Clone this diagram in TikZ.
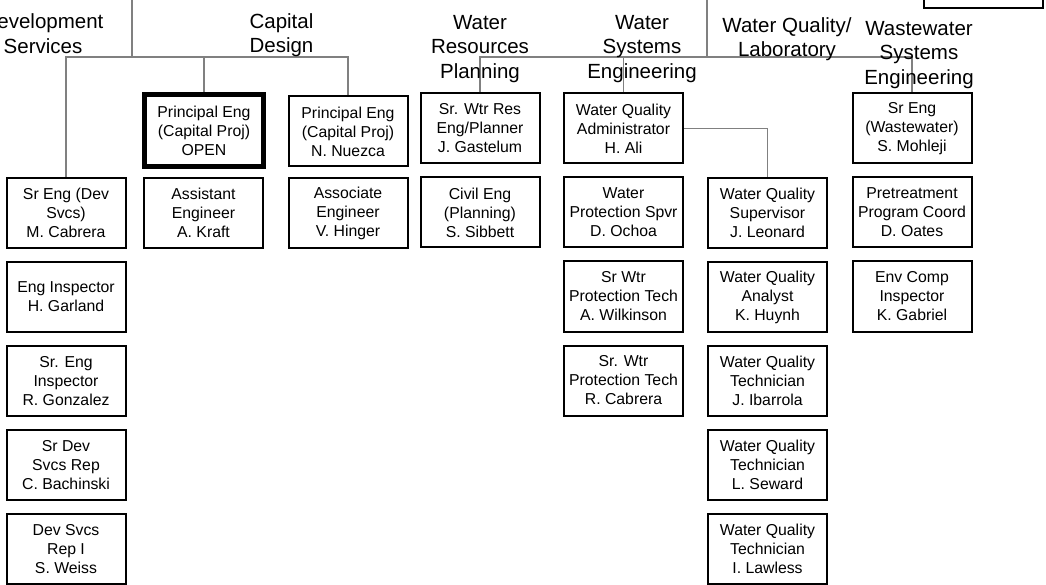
\documentclass[tikz,border=0pt]{standalone}
\usepackage{fontspec}
\setmainfont{Liberation Sans}
\usepackage{tikz}
\usetikzlibrary{positioning}
\definecolor{linkGray}{HTML}{808080}

\begin{document}
\begin{tikzpicture}[x=1pt,y=-1pt,node distance=12pt,
            box/.style={draw=black,line width=2pt,minimum width=119pt,minimum height=70pt,
                        inner sep=0pt,align=center,font=\fontsize{15.8}{19}\selectfont},
            openbox/.style={box,line width=5pt,minimum height=72pt},
            unit/.style={inner sep=0pt,align=center,font=\fontsize{20.5}{24.5}\selectfont},
            link/.style={draw=linkGray,line width=1.6pt}]
            \useasboundingbox (0,0) rectangle (1046,585);
            \node[openbox] (open) at (204,130.5) {Principal Eng\\(Capital Proj)\\OPEN};
            \node[box] (nuezca) at (348,131.5) {Principal Eng\\(Capital Proj)\\N. Nuezca};
            \node[box] (gastelum) at (480,128.5) {Sr. Wtr Res\\Eng/Planner\\J. Gastelum};
            \node[box] (ali) at (623.5,128.5) {Water Quality\\Administrator\\H. Ali};
            \node[box] (mohleji) at (912,128.5) {Sr Eng\\(Wastewater)\\S. Mohleji};
            \node[box,anchor=south] (corner) at (983,9) {};
            \node[box] (mcabrera) at (66,213) {Sr Eng (Dev\\Svcs)\\M. Cabrera};
            \node[box,below=of mcabrera] (garland) {Eng Inspector\\H. Garland};
            \node[box,below=of garland] (gonzalez) {Sr. Eng\\Inspector\\R. Gonzalez};
            \node[box,below=of gonzalez] (bachinski) {Sr Dev\\Svcs Rep\\C. Bachinski};
            \node[box,below=of bachinski] (weiss) {Dev Svcs\\Rep I\\S. Weiss};
            \node[box] (kraft) at (203.5,213) {Assistant\\Engineer\\A. Kraft};
            \node[box] (hinger) at (348,213) {Associate\\Engineer\\V. Hinger};
            \node[box,below=of gastelum] (sibbett) {Civil Eng\\(Planning)\\S. Sibbett};
            \node[box,below=of ali] (ochoa) {Water\\Protection Spvr\\D. Ochoa};
            \node[box,below=of ochoa] (wilkinson) {Sr Wtr\\Protection Tech\\A. Wilkinson};
            \node[box,below=of wilkinson] (rcabrera) {Sr. Wtr\\Protection Tech\\R. Cabrera};
            \node[box] (leonard) at (767.5,213) {Water Quality\\Supervisor\\J. Leonard};
            \node[box,below=of leonard] (huynh) {Water Quality\\Analyst\\K. Huynh};
            \node[box,below=of huynh] (ibarrola) {Water Quality\\Technician\\J. Ibarrola};
            \node[box,below=of ibarrola] (seward) {Water Quality\\Technician\\L. Seward};
            \node[box,below=of seward] (lawless) {Water Quality\\Technician\\I. Lawless};
            \node[box,below=of mohleji] (oates) {Pretreatment\\Program Coord\\D. Oates};
            \node[box,below=of oates] (gabriel) {Env Comp\\Inspector\\K. Gabriel};
            \coordinate (devtop) at (132,0);
            \coordinate (devbus) at (132,57);
            \coordinate (wtrtop) at (707,0);
            \coordinate (wtrbus) at (707,57);
            \draw[link] (devtop)--(devbus);
            \draw[link] (mcabrera.north) |- (devbus) -| (nuezca.north);
            \draw[link] (open.north)--(open.north |- devbus);
            \draw[link] (wtrtop)--(wtrbus);
            \draw[link] (gastelum.north) |- (wtrbus) -| (mohleji.north);
            \draw[link] (ali.north)--(ali.north |- wtrbus);
            \draw[link] (ali.east) -| (leonard.north);
            \node[unit] (devlabel) at (43,33.5) {Development\\Services};
            \node[unit] (caplabel) at (281.5,35) {Capital\\Design};
            \node[unit] (wrplabel) at (480,48.7) {Water\\Resources\\Planning};
            \node[unit] (wselabel) at (642,48.7) {Water\\Systems\\Engineering};
            \node[unit] (wqllabel) at (787,39) {Water Quality/\\Laboratory};
            \node[unit] (wwelabel) at (919,55) {Wastewater\\Systems\\Engineering};
        \end{tikzpicture}
\end{document}
